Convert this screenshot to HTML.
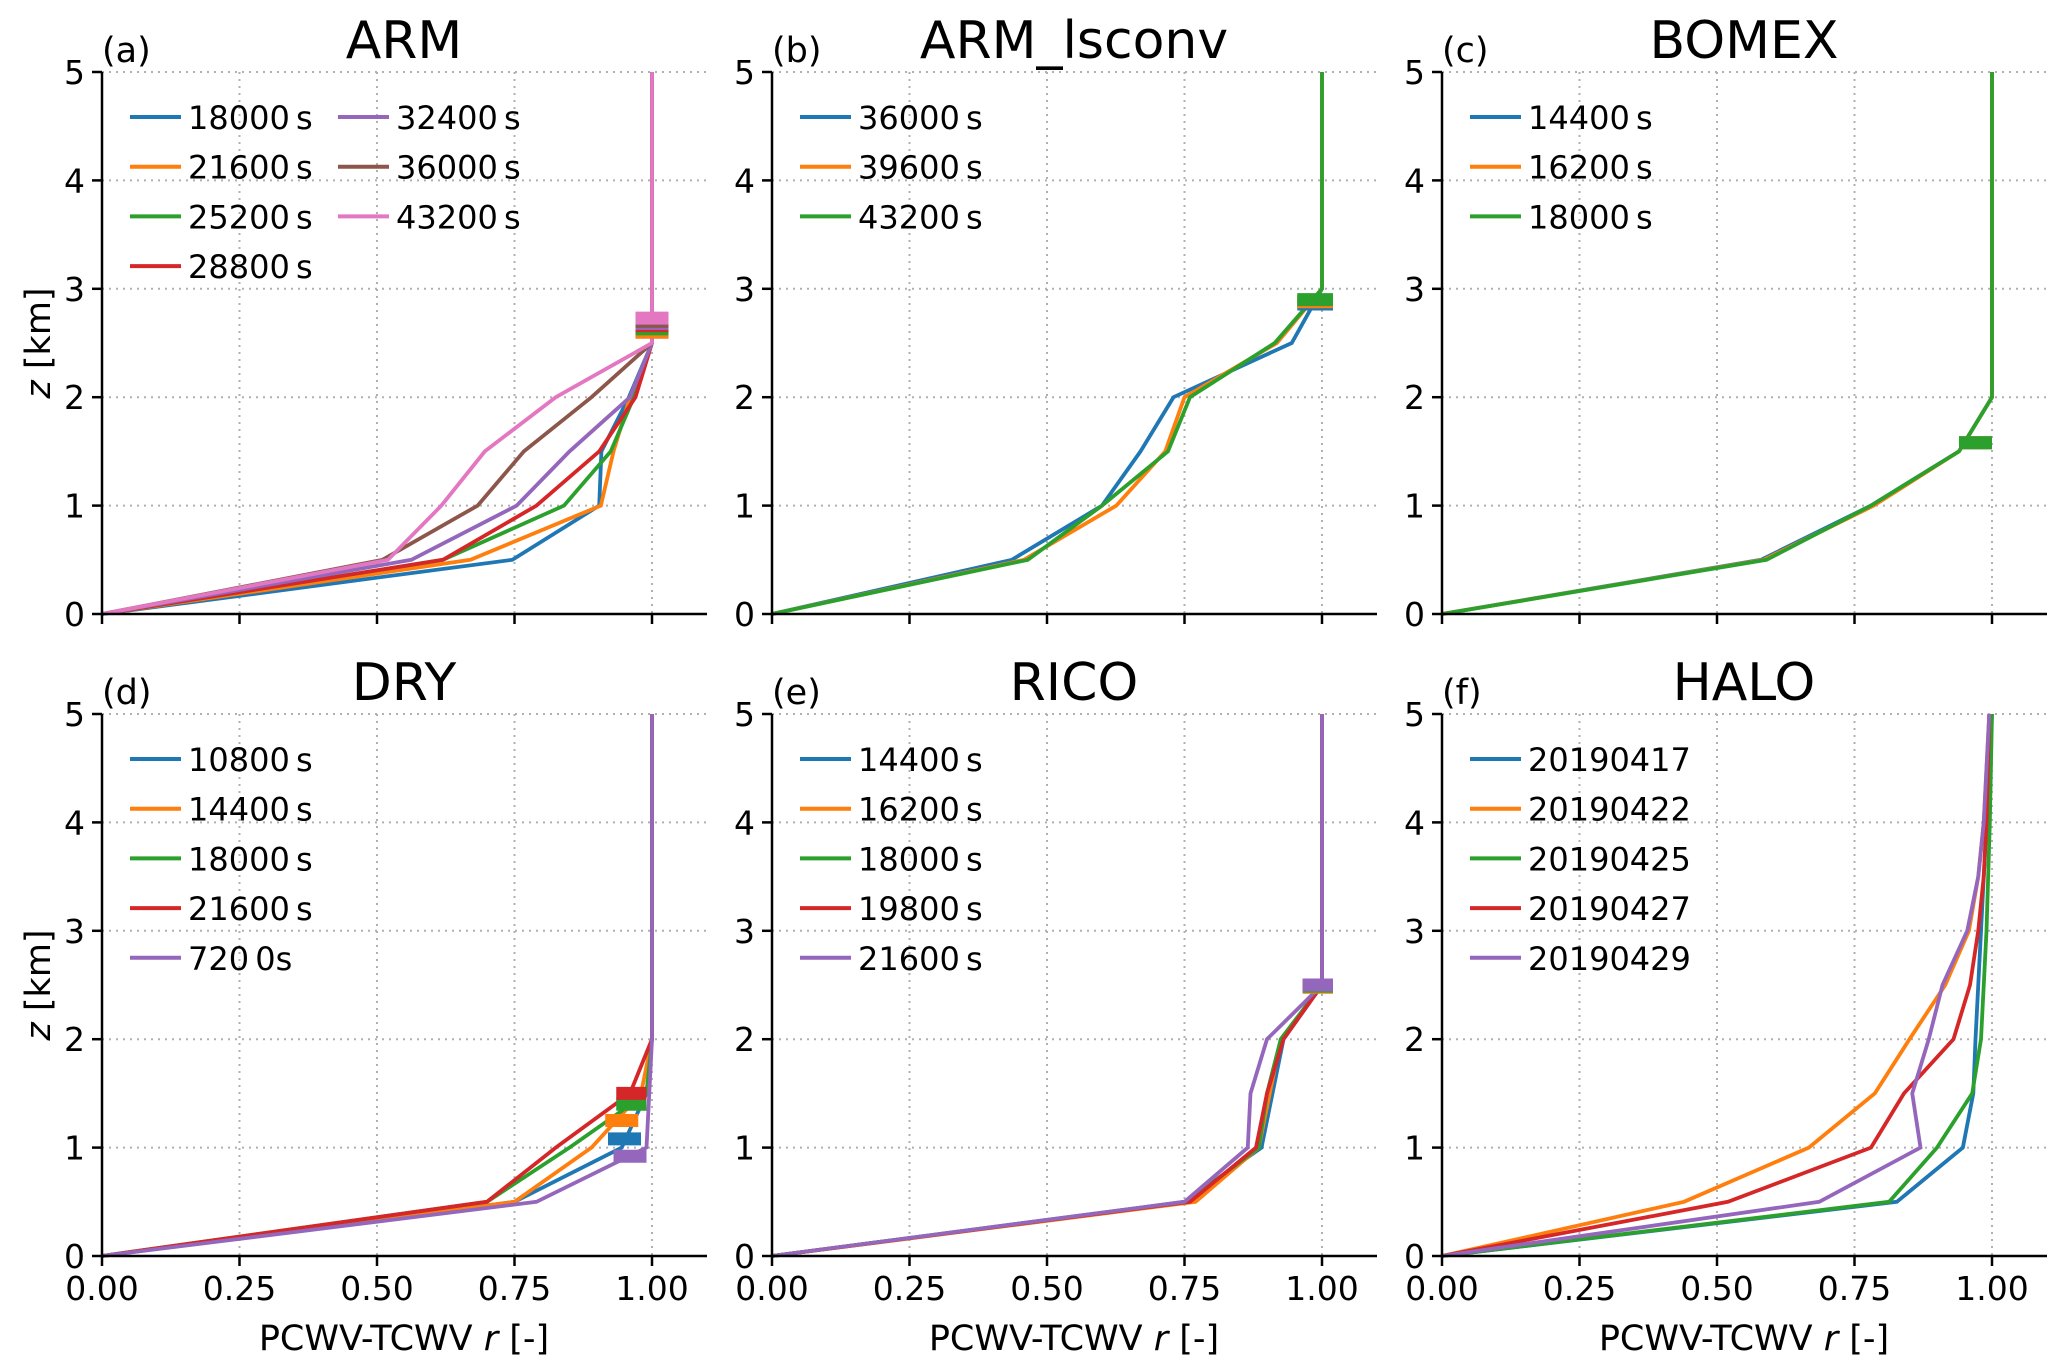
<!DOCTYPE html>
<html><head><meta charset="utf-8">
<style>
html,body{margin:0;padding:0;background:#fff;}
svg{display:block;font-family:"DejaVu Sans","Liberation Sans",sans-serif;}
</style></head>
<body>
<svg id="fig" width="2067" height="1365" viewBox="0 0 2067 1365" xmlns="http://www.w3.org/2000/svg"></svg>
<script>
// ---- data ----
const colors = ["#1f77b4","#ff7f0e","#2ca02c","#d62728","#9467bd","#8c564b","#e377c2"];
const zStd = [0,0.5,1,1.5,2,2.5,3,5];
const zHalo = [0,0.5,1,1.5,2,2.5,3,3.5,4,5];

const armLabels = ["18000 s","21600 s","25200 s","28800 s","32400 s","36000 s","43200 s"];
const armR = [
 [0,0.746,0.904,0.908,0.958,1,1,1],
 [0,0.67,0.907,0.93,0.96,1,1,1],
 [0,0.62,0.84,0.925,0.967,1,1,1],
 [0,0.62,0.79,0.904,0.97,1,1,1],
 [0,0.5625,0.754,0.85,0.96,1,1,1],
 [0,0.51,0.683,0.767,0.89,1,1,1],
 [0,0.52,0.617,0.696,0.825,1,1,1]
];
const armPbl = [2.6,2.6,2.63,2.66,2.68,2.7,2.73];

const lsLabels = ["36000 s","39600 s","43200 s"];
const lsR = [
 [0,0.436,0.60,0.67,0.73,0.945,1,1],
 [0,0.458,0.626,0.715,0.75,0.918,1,1],
 [0,0.465,0.60,0.72,0.76,0.914,1,1]
];
const lsPbl = [2.86,2.88,2.9];

const bomLabels = ["14400 s","16200 s","18000 s"];
const bomR = [
 [0,0.58,0.78,0.94,1,1,1,1],
 [0,0.585,0.785,0.94,1,1,1,1],
 [0,0.59,0.78,0.94,1,1,1,1]
];
const bomPbl = [1.58,1.58,1.58];

const dryLabels = ["10800 s","14400 s","18000 s","21600 s","720 0s"];
const dryR = [
 [0,0.75,0.945,0.99,1,1,1,1],
 [0,0.75,0.89,0.98,1,1,1,1],
 [0,0.70,0.85,0.99,1,1,1,1],
 [0,0.70,0.825,0.96,1,1,1,1],
 [0,0.79,0.99,0.995,1,1,1,1]
];
const dryPbl = [1.08,1.25,1.4,1.5,0.92];

const ricoLabels = ["14400 s","16200 s","18000 s","19800 s","21600 s"];
const ricoR = [
 [0,0.75,0.89,0.91,0.93,1,1,1],
 [0,0.77,0.885,0.905,0.925,1,1,1],
 [0,0.755,0.885,0.90,0.925,1,1,1],
 [0,0.76,0.88,0.90,0.93,1,1,1],
 [0,0.75,0.865,0.87,0.90,1,1,1]
];
const ricoPbl = [2.48,2.48,2.49,2.5,2.5];

const haloLabels = ["20190417","20190422","20190425","20190427","20190429"];
const haloR = [
 [0,0.827,0.947,0.966,0.97,0.975,0.98,0.985,0.99,1.0],
 [0,0.44,0.667,0.787,0.85,0.915,0.958,0.975,0.985,0.995],
 [0,0.813,0.90,0.964,0.98,0.985,0.99,0.993,0.996,1.0],
 [0,0.52,0.78,0.84,0.93,0.96,0.975,0.985,0.99,0.995],
 [0,0.686,0.87,0.855,0.885,0.91,0.955,0.975,0.985,0.995]
];

const xTicks = [0,0.25,0.5,0.75,1.0];
const xTickLabels = ["0.00","0.25","0.50","0.75","1.00"];
const yTicks = [0,1,2,3,4,5];

// ---- layout ----
const NS="http://www.w3.org/2000/svg";
const svg=document.getElementById('fig');
function el(tag,attrs,parent){const e=document.createElementNS(NS,tag);for(const k in attrs)e.setAttribute(k,attrs[k]);(parent||svg).appendChild(e);return e;}

const lefts=[102,772,1442];
const tops=[72,714];
const W=550, H=542;
const panels=[
 {tag:"(a)",title:"ARM",labels:armLabels,r:armR,z:zStd,pbl:armPbl,row:0,col:0,legendCols:2},
 {tag:"(b)",title:"ARM_lsconv",labels:lsLabels,r:lsR,z:zStd,pbl:lsPbl,row:0,col:1},
 {tag:"(c)",title:"BOMEX",labels:bomLabels,r:bomR,z:zStd,pbl:bomPbl,row:0,col:2},
 {tag:"(d)",title:"DRY",labels:dryLabels,r:dryR,z:zStd,pbl:dryPbl,row:1,col:0},
 {tag:"(e)",title:"RICO",labels:ricoLabels,r:ricoR,z:zStd,pbl:ricoPbl,row:1,col:1},
 {tag:"(f)",title:"HALO",labels:haloLabels,r:haloR,z:zHalo,pbl:null,row:1,col:2}
];

panels.forEach((p,pi)=>{
 const x0=lefts[p.col], yTop=tops[p.row], y0=yTop+H;
 const sx=v=>x0+v*W, sy=v=>y0-v/5*H;
 const g=el('g',{});
 
 
 xTicks.forEach(t=>{ if(t>0){const l=el('line',{x1:sx(t),x2:sx(t),y1:yTop,y2:y0,stroke:'#b0b0b0','stroke-width':2,'stroke-dasharray':'2,5'},g);
   }});
 yTicks.forEach(t=>{ if(t>0){const l=el('line',{x1:x0,x2:x0+605,y1:sy(t),y2:sy(t),stroke:'#b0b0b0','stroke-width':2,'stroke-dasharray':'2,5'},g);
   }});
 p.r.forEach((rs,i)=>{
   const pts=rs.map((v,k)=>sx(v)+','+sy(p.z[k])).join(' ');
   const pl=el('polyline',{points:pts,fill:'none',stroke:colors[i],'stroke-width':3.8,'stroke-linejoin':'miter'},g);
   
   
 });
 if(p.pbl){
   p.pbl.forEach((zv,i)=>{
     let a=0.955,b=1.02;
     if(p.title==="DRY"){a=[0.92,0.915,0.935,0.935,0.93][i];b=[0.98,0.975,0.99,0.99,0.99][i];}
     if(p.title==="BOMEX"){a=0.94;b=1.0;}
     if(p.title==="RICO"){a=0.965;b=1.02;}
     if(p.title==="ARM"){a=0.97;b=1.03;}
     const m=el('line',{x1:sx(a),x2:sx(b),y1:sy(zv),y2:sy(zv),stroke:colors[i],'stroke-width':13},g);
     
     
   });
 }
 const sl=el('line',{x1:x0,x2:x0,y1:yTop,y2:y0+1,stroke:'#000','stroke-width':2.5},g);
 
 const sb=el('line',{x1:x0-1,x2:x0+605,y1:y0,y2:y0,stroke:'#000','stroke-width':2.5},g);
 
 xTicks.forEach((t,k)=>{
   el('line',{x1:sx(t),x2:sx(t),y1:y0,y2:y0+10,stroke:'#000','stroke-width':2.5},g);
   if(p.row===1){
     const tx=el('text',{x:sx(t),y:1300,'font-size':33,'text-anchor':'middle',fill:'#000'},g);
     tx.textContent=xTickLabels[k];
     
   }
 });
 yTicks.forEach(t=>{
   el('line',{x1:x0-10,x2:x0,y1:sy(t),y2:sy(t),stroke:'#000','stroke-width':2.5},g);
   const ty=el('text',{x:x0-17,y:sy(t)+12,'font-size':33,'text-anchor':'end',fill:'#000'},g);
   ty.textContent=String(t);
   
 });
 const tt=el('text',{x:x0+302,y:yTop-14,'font-size':52,'text-anchor':'middle',fill:'#000'},g);
 tt.textContent=p.title;
 
 const tg=el('text',{x:x0,y:yTop-10,'font-size':35,fill:'#000'},g);
 tg.textContent=p.tag;
 
 if(p.row===1){
   const xl=el('text',{x:x0+302,y:1350,'font-size':35,'text-anchor':'middle',fill:'#000'},g);
   xl.innerHTML='PCWV-TCWV <tspan font-style="italic">r</tspan> [-]';
   
 }
 if(p.col===0){
   const yl=el('text',{x:0,y:0,'font-size':35,'text-anchor':'middle',fill:'#000',transform:'translate(50,'+(yTop+H/2)+') rotate(-90)'},g);
   yl.innerHTML='<tspan font-style="italic">z</tspan> [km]';
   
 }
 const lg=el('g',{},g);
 
 const nRows = p.legendCols===2?4:p.labels.length;
 p.labels.forEach((lab,i)=>{
   const c=Math.floor(i/nRows), r=i%nRows;
   const lx=x0+28+c*208, ly=yTop+45+r*49.7;
   const ln=el('line',{x1:lx,x2:lx+51,y1:ly,y2:ly,stroke:colors[i],'stroke-width':4},lg);
   
   const t=el('text',{x:lx+58,y:ly+12,'font-size':32,fill:'#000','word-spacing':'-4'},lg);
   t.textContent=lab;
   
 });
});
</script>
</body></html>
